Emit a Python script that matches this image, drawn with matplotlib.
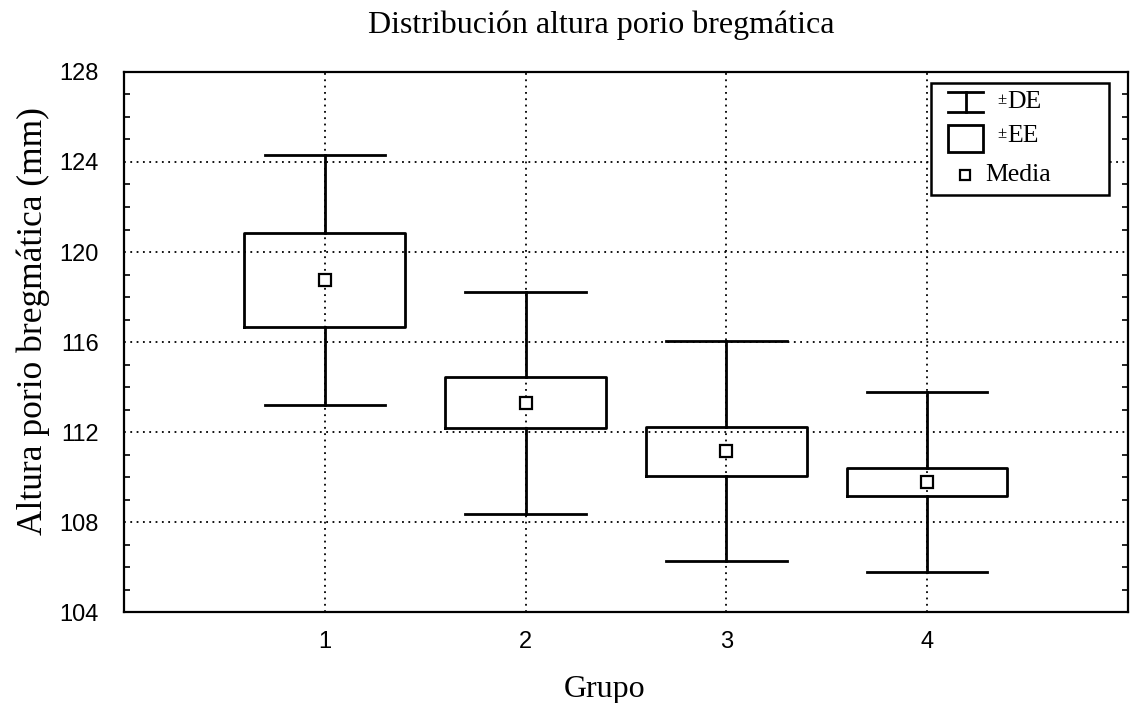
import matplotlib
matplotlib.use("Agg")
import matplotlib.pyplot as plt
from matplotlib.patches import Rectangle
from matplotlib.lines import Line2D
from matplotlib.ticker import MultipleLocator

# ---- data ----
groups = [1, 2, 3, 4]
means = [118.76, 113.30, 111.15, 109.77]
se = [2.10, 1.13, 1.09, 0.61]
sd = [5.56, 4.94, 4.88, 3.99]
y_ticks = [104, 108, 112, 116, 120, 124, 128]
title = "Distribución altura porio bregmática"
xlabel = "Grupo"
ylabel = "Altura porio bregmática (mm)"
legend_labels = ["DE", "EE", "Media"]

serif = ["Liberation Serif", "DejaVu Serif"]
sans = ["Liberation Sans", "DejaVu Sans"]

fig = plt.figure(figsize=(11.30, 7.03), dpi=100)
ax = fig.add_axes([0.1097, 0.1294, 0.8885, 0.7682])

stats = []
for g, m, e, s in zip(groups, means, se, sd):
    stats.append(dict(med=m, mean=m, q1=m - e, q3=m + e,
                      whislo=m - s, whishi=m + s, label=str(g)))

ax.bxp(stats, positions=groups, widths=0.8, capwidths=0.6,
       showmeans=True, showfliers=False, patch_artist=False,
       boxprops=dict(color="black", linewidth=2.0),
       whiskerprops=dict(color="black", linewidth=2.0),
       capprops=dict(color="black", linewidth=2.0),
       medianprops=dict(linewidth=0),
       meanprops=dict(marker="s", markersize=8, markerfacecolor="white",
                      markeredgecolor="black", markeredgewidth=1.6),
       zorder=3)

ax.set_xlim(0, 5)
ax.set_ylim(104, 128)
ax.set_xticks(groups)
ax.set_xticklabels([str(g) for g in groups])
ax.set_yticks(y_ticks)
ax.yaxis.set_minor_locator(MultipleLocator(1))

for spine in ax.spines.values():
    spine.set_linewidth(1.6)
    spine.set_color("black")

ax.grid(True, which="major", linestyle=(0, (1, 2.5)), color="black",
        linewidth=1.3)
ax.set_axisbelow(True)

ax.tick_params(axis="y", which="major", direction="in", length=0,
               labelsize=17, pad=18, left=True, right=False)
ax.tick_params(axis="y", which="minor", direction="in", length=4,
               width=1.2, left=True, right=True)
ax.tick_params(axis="x", which="major", direction="in", length=0,
               labelsize=17, pad=14)
for lab in ax.get_xticklabels() + ax.get_yticklabels():
    lab.set_family(sans)

fig.text(0.532, 0.964, title, ha="center", va="center",
         fontsize=23, family=serif)
fig.text(0.535, 0.019, xlabel, ha="center", va="center",
         fontsize=23, family=serif)
fig.text(0.029, 0.543, ylabel, ha="center", va="center", rotation=90,
         fontsize=25.5, family=serif)

# ---- legend (drawn manually, axes coords) ----
T = ax.transAxes
leg = Rectangle((0.804, 0.772), 0.177, 0.207, transform=T, fill=True,
                facecolor="white", edgecolor="black", linewidth=1.8,
                zorder=5)
ax.add_patch(leg)
# I-beam symbol
x0, x1 = 0.8205, 0.856
xc = (x0 + x1) / 2
yt, yb = 0.963, 0.926
for art in [Line2D([x0, x1], [yt, yt]), Line2D([x0, x1], [yb, yb]),
            Line2D([xc, xc], [yb, yt])]:
    art.set_transform(T); art.set_color("black"); art.set_linewidth(2)
    art.set_zorder(6); ax.add_line(art)
# box symbol
ax.add_patch(Rectangle((0.8205, 0.852), 0.0355, 0.05, transform=T,
                       fill=False, edgecolor="black", linewidth=2,
                       zorder=6))
# mean symbol
ax.add_line(Line2D([0.8375], [0.809], transform=T, marker="s",
                   markersize=7, markerfacecolor="white",
                   markeredgecolor="black", markeredgewidth=1.6,
                   zorder=6))
for yy, lab in [(0.944, legend_labels[0]), (0.881, legend_labels[1])]:
    ax.text(0.870, yy + 0.004, "±", transform=T, ha="left", va="center",
            fontsize=12, family=serif, zorder=7)
    ax.text(0.8795, yy, lab, transform=T, ha="left", va="center",
            fontsize=18.5, family=serif, zorder=7)
ax.text(0.8576, 0.809, legend_labels[2], transform=T, ha="left",
        va="center", fontsize=18.5, family=serif, zorder=7)

fig.savefig("out.png", dpi=100, facecolor="white")
